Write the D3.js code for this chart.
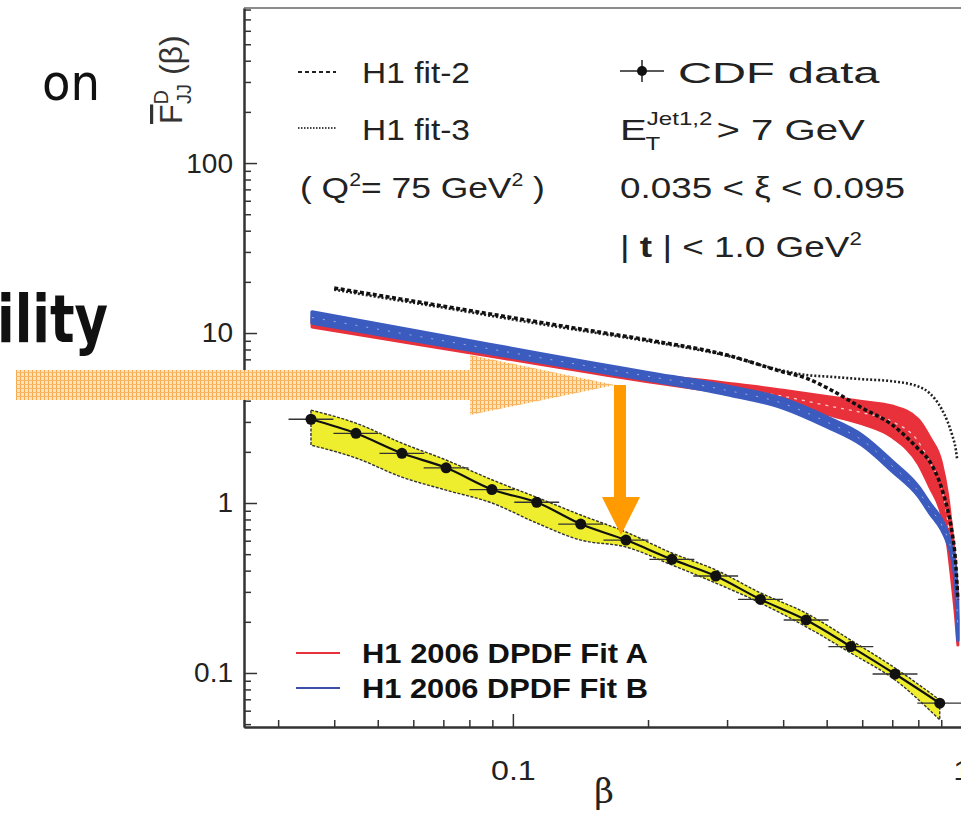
<!DOCTYPE html>
<html><head><meta charset="utf-8">
<script src="https://cdn.jsdelivr.net/npm/d3@7"></script>
<style>body{margin:0;background:#fff;overflow:hidden}text{font-family:"Liberation Sans",Arial,sans-serif}</style>
</head><body><svg id="c" width="961" height="815"></svg>
<script>
// ---------- data ----------
const cdfBeta  = [0.0355,0.0447,0.0566,0.0710,0.0898,0.113,0.1416,0.1786,0.226,0.283,0.356,0.450,0.566,0.710,0.893];
const cdfValue = [3.11,2.57,1.96,1.61,1.20,1.01,0.752,0.605,0.466,0.372,0.271,0.205,0.143,0.0986,0.0664];
const cdfErr   = [0.12,0.09,0.07,0.06,0.045,0.04,0.03,0.025,0.02,0.016,0.012,0.009,0.007,0.005,0.004];
const cdfBandHi = [3.52,2.95,2.25,1.79,1.37,1.08,0.85,0.675,0.508,0.404,0.296,0.225,0.156,0.107,0.0694];
const cdfBandLo = [2.19,1.84,1.42,1.19,1.00,0.762,0.605,0.551,0.432,0.338,0.258,0.187,0.131,0.091,0.053];

const fitBeta = [0.0357,0.05,0.07,0.1,0.15,0.2,0.3,0.4,0.5,0.6,0.7,0.8,0.85,0.9,0.93,0.95,0.97,0.98];
const fitAHi = [12.25,10.52,9.04,7.71,6.44,5.74,5.07,4.61,4.23,3.95,3.72,3.10,2.41,1.74,1.11,0.694,0.404,0.269];
const fitALo = [10.85,9.37,8.11,6.95,5.83,5.16,4.43,3.91,3.32,2.92,2.44,1.70,1.23,0.868,0.566,0.352,0.205,0.146];
const fitBHi = [13.30,11.29,9.60,8.09,6.66,5.85,4.86,4.09,3.20,2.50,1.76,1.25,0.99,0.805,0.666,0.551,0.377,0.205];
const fitBLo = [11.45,9.84,8.45,7.21,6.01,5.30,4.35,3.62,2.81,2.19,1.54,1.10,0.868,0.703,0.582,0.481,0.308,0.156];

const h1Fit2Beta = [0.040,0.05,0.07,0.1,0.15,0.2,0.3,0.4,0.45,0.5,0.6,0.7,0.8,0.85,0.9,0.93,0.95,0.97,0.98];
const h1Fit2     = [18.4,16.7,14.4,12.3,10.3,9.1,7.42,5.9,5.43,4.77,3.62,2.88,2.08,1.74,1.24,0.91,0.69,0.43,0.27];
const h1Fit3Beta = [0.040,0.05,0.07,0.1,0.15,0.2,0.3,0.4,0.45,0.5,0.6,0.7,0.8,0.85,0.9,0.93,0.95,0.97,0.977];
const h1Fit3     = [18.0,16.3,14.1,12.0,10.1,8.95,7.35,6.0,5.66,5.55,5.35,5.2,4.85,4.4,3.6,3.0,2.55,2.05,1.79];

const xMajorTicks = [0.1, 1];
const xMinorTicks = [0.03,0.04,0.05,0.06,0.07,0.08,0.09,0.2,0.3,0.4,0.5,0.6,0.7,0.8,0.9];
const yMajorTicks = [0.1, 1, 10, 100];
const yMinorTicks = [0.05,0.06,0.07,0.08,0.09,0.2,0.3,0.4,0.5,0.6,0.7,0.8,0.9,2,3,4,5,6,7,8,9,20,30,40,50,60,70,80,90,200,300,400,500,600,700,800];

// ---------- layout ----------
const svg = d3.select("#c");
const x = d3.scaleLog().domain([0.02518, 1.07]).range([244, 975]);
const y = d3.scaleLog().domain([0.0481, 817]).range([727, 8]);

const defs = svg.append("defs");
const pat = defs.append("pattern").attr("id","hatch").attr("patternUnits","userSpaceOnUse").attr("width",4).attr("height",4);
pat.append("rect").attr("width",4).attr("height",4).attr("fill","#fde3bd");
pat.append("rect").attr("x",0).attr("y",0).attr("width",1).attr("height",4).attr("fill","#f6a94a");
pat.append("rect").attr("x",0).attr("y",0).attr("width",4).attr("height",1).attr("fill","#f8b868");
defs.append("clipPath").attr("id","plotclip").append("rect").attr("x",245).attr("y",8).attr("width",730).attr("height",718);

// fit a text element (placed inside a group) horizontally between x0 and x1
function placeText(x0, x1, py, size, weight, family){
  const g = svg.append("g");
  const t = g.append("text").attr("font-size",size).attr("font-weight",weight||"normal").attr("fill","#222");
  if (family) t.style("font-family",family);
  return {t, fit(){ const w = t.node().getBBox().width; g.attr("transform",`translate(${x0},${py}) scale(${(x1-x0)/w},1)`); return t; }};
}

// ---------- left slide text ----------
const on = placeText(42, 100, 100, 50, "normal", "'DejaVu Sans',sans-serif"); on.t.attr("fill","#111").text("on"); on.fit();
const il = placeText(-3, 108, 342, 66, "bold", "'DejaVu Sans',sans-serif"); il.t.attr("fill","#111").text("ility"); il.fit();

// ---------- axes ----------
const fmt = d => d === 0.1 ? "0.1" : d3.format("~g")(d);
const gx = svg.append("g").attr("transform","translate(0,727)");
gx.call(d3.axisBottom(x).tickValues(xMajorTicks).tickFormat(fmt).tickSizeInner(-13).tickSizeOuter(0).tickPadding(33));
gx.append("g").call(d3.axisBottom(x).tickValues(xMinorTicks).tickFormat("").tickSizeInner(-7).tickSizeOuter(0));
const gy = svg.append("g").attr("transform","translate(244,0)");
gy.call(d3.axisLeft(y).tickValues(yMajorTicks).tickFormat(fmt).tickSizeInner(-13).tickSizeOuter(0).tickPadding(11));
gy.append("g").call(d3.axisLeft(y).tickValues(yMinorTicks).tickFormat("").tickSizeInner(-7).tickSizeOuter(0));
svg.selectAll(".domain").attr("stroke","#333").attr("stroke-width",2);
svg.selectAll(".tick line").attr("stroke","#333").attr("stroke-width",1.5);
svg.selectAll(".tick text").attr("font-size",28).attr("fill","#222").style("font-family","'Liberation Sans',Arial,sans-serif");
gx.selectAll(".tick text").attr("transform","scale(1.15,1)");
svg.append("line").attr("x1",244).attr("x2",975).attr("y1",8).attr("y2",8).attr("stroke","#666").attr("stroke-width",1.5);

// axis titles
svg.append("text").attr("x",604).attr("y",803).attr("text-anchor","middle").attr("font-size",34).attr("fill","#222")
  .style("font-family","'DejaVu Serif',serif").text("β");
const yl = svg.append("text").attr("transform","translate(182,124) rotate(-90)").attr("font-size",32).attr("fill","#333");
yl.append("tspan").style("text-decoration","overline").text("F");
yl.append("tspan").attr("font-size",20).attr("dy",-14).text("D");
yl.append("tspan").attr("font-size",20).attr("dx",-14).attr("dy",23).text("JJ");
yl.append("tspan").attr("dy",-9).text(" (β)");

// ---------- plot ----------
const plot = svg.append("g").attr("clip-path","url(#plotclip)");
const bandArea = (lo, hi, bx) => d3.area().x((d,i)=>x(bx[i])).y0((d,i)=>y(lo[i])).y1((d,i)=>y(hi[i])).curve(d3.curveMonotoneX)(lo);
const midLine = (lo, hi, bx) => d3.line().x((d,i)=>x(bx[i])).y((d,i)=>(y(lo[i])+y(hi[i]))/2).curve(d3.curveMonotoneX)(lo);

plot.append("path").attr("d",bandArea(fitALo,fitAHi,fitBeta)).attr("fill","#e8313b").attr("stroke","#e8313b").attr("stroke-width",3).attr("stroke-linejoin","round");
plot.append("path").attr("d",midLine(fitALo,fitAHi,fitBeta)).attr("fill","none").attr("stroke","#fff").attr("stroke-opacity",0.75).attr("stroke-width",1.3).attr("stroke-dasharray","3,5");
plot.append("path").attr("d",bandArea(fitBLo,fitBHi,fitBeta)).attr("fill","#3b5bbf").attr("stroke","#3b5bbf").attr("stroke-width",3.5).attr("stroke-linejoin","round");
plot.append("path").attr("d",midLine(fitBLo,fitBHi,fitBeta)).attr("fill","none").attr("stroke","#fff").attr("stroke-opacity",0.5).attr("stroke-width",1).attr("stroke-dasharray","2,9");

const lineOf = (bx, v) => d3.line().x((d,i)=>x(bx[i])).y(d=>y(d)).curve(d3.curveMonotoneX)(v);
plot.append("path").attr("d",lineOf(h1Fit3Beta,h1Fit3)).attr("fill","none").attr("stroke","#222").attr("stroke-width",2.6).attr("stroke-dasharray","2,2");
plot.append("path").attr("d",lineOf(h1Fit2Beta,h1Fit2)).attr("fill","none").attr("stroke","#111").attr("stroke-width",3.5).attr("stroke-dasharray","4,2.5");

// CDF band
plot.append("path").attr("d",bandArea(cdfBandLo,cdfBandHi,cdfBeta)).attr("fill","#eeee2e").attr("stroke","#333").attr("stroke-width",1.4).attr("stroke-dasharray","3,1.5");
plot.append("path").attr("d",lineOf(cdfBeta,cdfValue)).attr("fill","none").attr("stroke","#111").attr("stroke-width",2.2);
const pts = plot.append("g");
cdfBeta.forEach((b,i)=>{
  pts.append("line").attr("x1",x(b/1.122)).attr("x2",x(b*1.122)).attr("y1",y(cdfValue[i])).attr("y2",y(cdfValue[i])).attr("stroke","#333").attr("stroke-width",1.3);
  pts.append("line").attr("x1",x(b)).attr("x2",x(b)).attr("y1",y(cdfValue[i]-cdfErr[i])).attr("y2",y(cdfValue[i]+cdfErr[i])).attr("stroke","#333").attr("stroke-width",1.3);
  pts.append("circle").attr("cx",x(b)).attr("cy",y(cdfValue[i])).attr("r",5.5).attr("fill","#111");
});

// ---------- legends ----------
svg.append("line").attr("x1",298).attr("x2",336).attr("y1",72).attr("y2",72).attr("stroke","#222").attr("stroke-width",2).attr("stroke-dasharray","4,3");
let p = placeText(362,470,83,30); p.t.text("H1 fit-2"); p.fit();
svg.append("line").attr("x1",298).attr("x2",336).attr("y1",128).attr("y2",128).attr("stroke","#444").attr("stroke-width",2).attr("stroke-dasharray","1.5,1.5");
p = placeText(362,470,140,30); p.t.text("H1 fit-3"); p.fit();
p = placeText(300,545,198,30);
p.t.append("tspan").text("( Q");
p.t.append("tspan").attr("font-size",18).attr("dy",-12).text("2");
p.t.append("tspan").attr("dy",12).text("= 75 GeV");
p.t.append("tspan").attr("font-size",18).attr("dy",-12).text("2");
p.t.append("tspan").attr("dy",12).text(" )");
p.fit();

svg.append("line").attr("x1",620).attr("x2",664).attr("y1",71).attr("y2",71).attr("stroke","#222").attr("stroke-width",1.5);
svg.append("line").attr("x1",642).attr("x2",642).attr("y1",60).attr("y2",82).attr("stroke","#222").attr("stroke-width",1.5);
svg.append("circle").attr("cx",642).attr("cy",71).attr("r",5).attr("fill","#111");
p = placeText(678,880,83,30); p.t.text("CDF data"); p.fit();
p = placeText(620,865,140,30);
p.t.append("tspan").text("E");
p.t.append("tspan").attr("font-size",18).attr("dy",-15).text("Jet1,2");
p.t.append("tspan").attr("font-size",18).attr("x",19).attr("dy",25).text("T");
p.t.append("tspan").attr("x",72).attr("dy",-10).text("> 7 GeV");
p.fit();
p = placeText(620,905,198,30); p.t.text("0.035 < ξ < 0.095"); p.fit();
p = placeText(620,862,257,30);
p.t.append("tspan").text("| ");
p.t.append("tspan").attr("font-weight","bold").text("t");
p.t.append("tspan").text(" | < 1.0 GeV");
p.t.append("tspan").attr("font-size",18).attr("dy",-12).text("2");
p.fit();

svg.append("line").attr("x1",296).attr("x2",340).attr("y1",653).attr("y2",653).attr("stroke","#e8313b").attr("stroke-width",2);
p = placeText(362,648,663,28,"bold"); p.t.attr("fill","#111").text("H1 2006 DPDF Fit A"); p.fit();
svg.append("line").attr("x1",296).attr("x2",340).attr("y1",688).attr("y2",688).attr("stroke","#3b4fa8").attr("stroke-width",2);
p = placeText(362,648,698,28,"bold"); p.t.attr("fill","#111").text("H1 2006 DPDF Fit B"); p.fit();

// ---------- arrows ----------
svg.append("path").attr("d","M16,370 L470,370 L470,355 L615,385 L470,415 L470,400 L16,400 Z").attr("fill","url(#hatch)");
svg.append("path").attr("d","M614,385 L626,385 L626,497 L640,497 L621,535 L602,497 L614,497 Z").attr("fill","#ff9a00");
</script></body></html>
